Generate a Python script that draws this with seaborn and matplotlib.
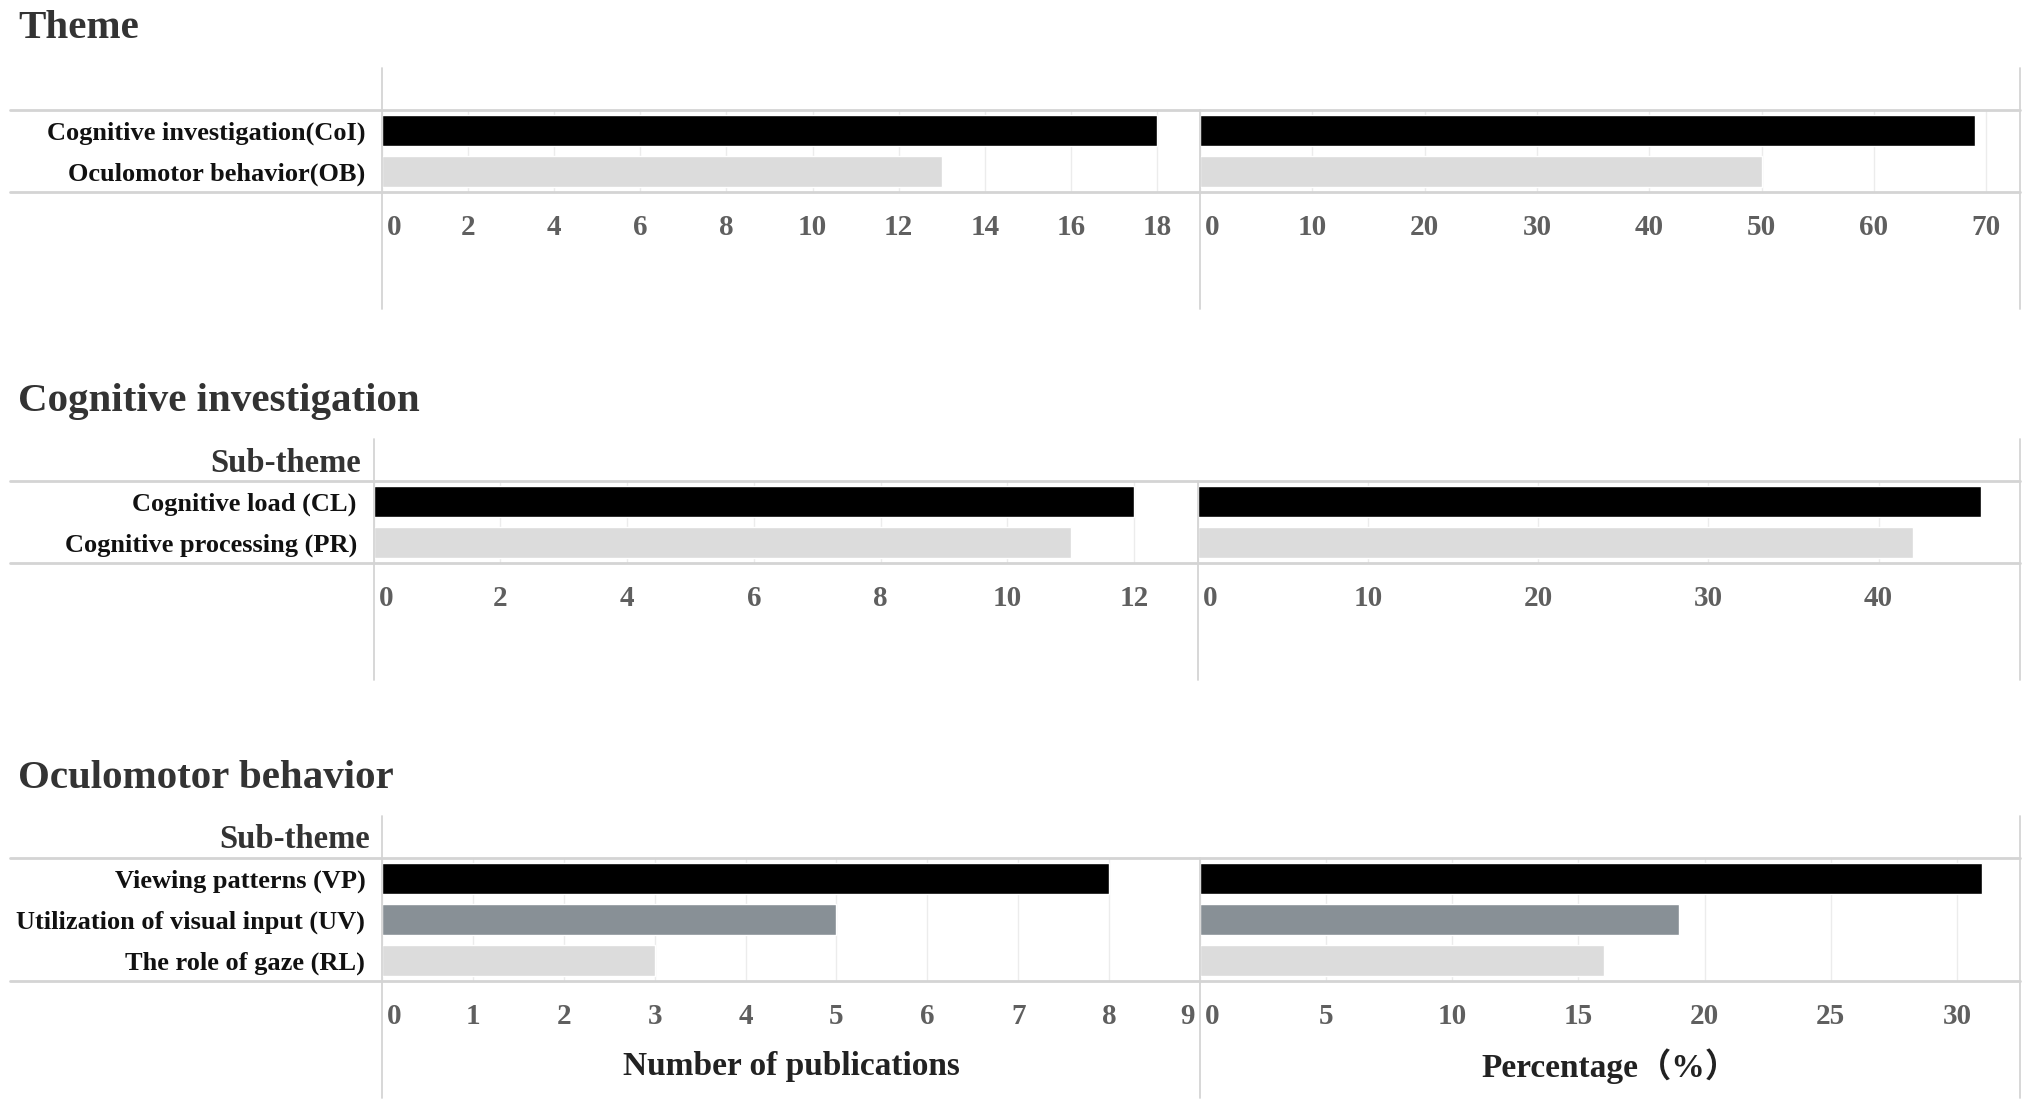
import matplotlib
matplotlib.use("Agg")
import matplotlib.pyplot as plt
from matplotlib.lines import Line2D
from matplotlib.transforms import ScaledTranslation
import numpy as np
import seaborn as sns

# data
theme_labels = ['Cognitive investigation(CoI)', 'Oculomotor behavior(OB)']
theme_counts = [18, 13]
theme_pct = [69, 50]

ci_labels = ['Cognitive load (CL)', 'Cognitive processing (PR)']
ci_counts = [12, 11]
ci_pct = [46, 42]

ob_labels = ['Viewing patterns (VP)', 'Utilization of visual input (UV)', 'The role of gaze (RL)']
ob_counts = [8, 5, 3]
ob_pct = [31, 19, 16]

section_titles = ['Theme', 'Cognitive investigation', 'Oculomotor behavior']
count_ticks = [list(range(0, 19, 2)), list(range(0, 13, 2)), list(range(0, 10, 1))]
pct_ticks = [list(range(0, 71, 10)), list(range(0, 41, 10)), list(range(0, 31, 5))]
count_max = [19, 13, 9]
pct_max = [73, 48.3, 32.5]

colors2 = ['#000000', '#dcdcdc']
colors3 = ['#000000', '#889096', '#dcdcdc']

sns.set_style('white')
plt.rcParams['font.family'] = ['Liberation Serif', 'Noto Sans CJK SC']
plt.rcParams['font.weight'] = 'bold'

W, H = 2032, 1110
fig = plt.figure(figsize=(W / 100, H / 100), dpi=100)

LINE = '#d4d4d4'


def px_axes(x0, x1, y0, y1):
    return fig.add_axes([x0 / W, 1 - y1 / H, (x1 - x0) / W, (y1 - y0) / H])


def hline(y, x0, x1, lw=2.0):
    fig.add_artist(Line2D([x0 / W, x1 / W], [1 - y / H, 1 - y / H], color=LINE, lw=lw))


def vline(x, y0, y1, lw=1.3):
    fig.add_artist(Line2D([x / W, x / W], [1 - y0 / H, 1 - y1 / H], color=LINE, lw=lw))


# layout per section: title_y, header_top, top, bottom, end, left_x, divider
layout = [
    (29, 68, 110, 192, 309, 382, 1200),
    (401, 439, 481, 563, 680, 373.5, 1197.5),
    (778, 816, 858, 981, 1098, 382, 1200),
]
RIGHT = 2020

data = [
    (theme_labels, theme_counts, theme_pct, colors2, None),
    (ci_labels, ci_counts, ci_pct, colors2, 'Sub-theme'),
    (ob_labels, ob_counts, ob_pct, colors3, 'Sub-theme'),
]


def style_axis(ax, ticks, xmax, last_right=False):
    ax.set_xlim(0, xmax)
    ax.set_xticks(ticks)
    ax.set_xticklabels([str(t) for t in ticks], fontsize=21, fontweight='bold', color='#5f5f5f')
    ax.tick_params(axis='x', direction='out', length=6, width=1, color='#e4e4e4', pad=10)
    ax.tick_params(axis='y', length=0)
    labels = ax.get_xticklabels()
    labels[0].set_horizontalalignment('left')
    labels[0].set_transform(labels[0].get_transform() + ScaledTranslation(5 / 100, 0, fig.dpi_scale_trans))
    if last_right and abs(ticks[-1] - xmax) < 0.01:
        labels[-1].set_horizontalalignment('right')
        labels[-1].set_transform(labels[-1].get_transform() + ScaledTranslation(-5 / 100, 0, fig.dpi_scale_trans))
    ax.grid(axis='x', color='#ececec', lw=1)
    ax.grid(axis='y', visible=False)
    ax.set_axisbelow(True)
    for s in ax.spines.values():
        s.set_visible(False)
    ax.set_xlabel('')
    ax.set_ylabel('')


for i, ((labels, counts, pct, cols, header), lay) in enumerate(zip(data, layout)):
    title_y, htop, top, bottom, end, lx, div = lay

    fig.text(18 / W, 1 - title_y / H, section_titles[i], fontsize=29.5, fontweight='bold',
             color='#333333', va='center', ha='left')
    if header:
        fig.text((lx - 12) / W, 1 - ((htop + top) / 2 + 3) / H, header, fontsize=23.5,
                 fontweight='bold', color='#333333', va='center', ha='right')

    ax1 = px_axes(lx, div, top, bottom)
    sns.barplot(x=counts, y=labels, hue=labels, palette=cols, orient='h', width=0.75,
                saturation=1, legend=False, ax=ax1)
    style_axis(ax1, count_ticks[i], count_max[i], last_right=True)
    ax1.tick_params(axis='y', pad=12)
    for t in ax1.get_yticklabels():
        t.set_fontsize(19)
        t.set_fontweight('bold')
        t.set_color('#111111')

    ax2 = px_axes(div, RIGHT, top, bottom)
    sns.barplot(x=pct, y=labels, hue=labels, palette=cols, orient='h', width=0.75,
                saturation=1, legend=False, ax=ax2)
    style_axis(ax2, pct_ticks[i], pct_max[i])
    ax2.set_yticklabels([])

    if i == 2:
        ax1.set_xlabel('Number of publications', fontsize=24, fontweight='bold', color='#222222')
        ax2.set_xlabel('Percentage（%）', fontsize=24, fontweight='bold', color='#222222')
        for ax in (ax1, ax2):
            ax.xaxis.set_label_coords(0.5, -(1066 - bottom) / (bottom - top))
            ax.xaxis.label.set_verticalalignment('center')

    # table frame lines
    hline(top, 10, RIGHT)
    hline(bottom, 10, RIGHT)
    vline(lx, htop, end)
    vline(div, top, end)
    vline(RIGHT, htop, end)

fig.savefig('out.png', dpi=100)
